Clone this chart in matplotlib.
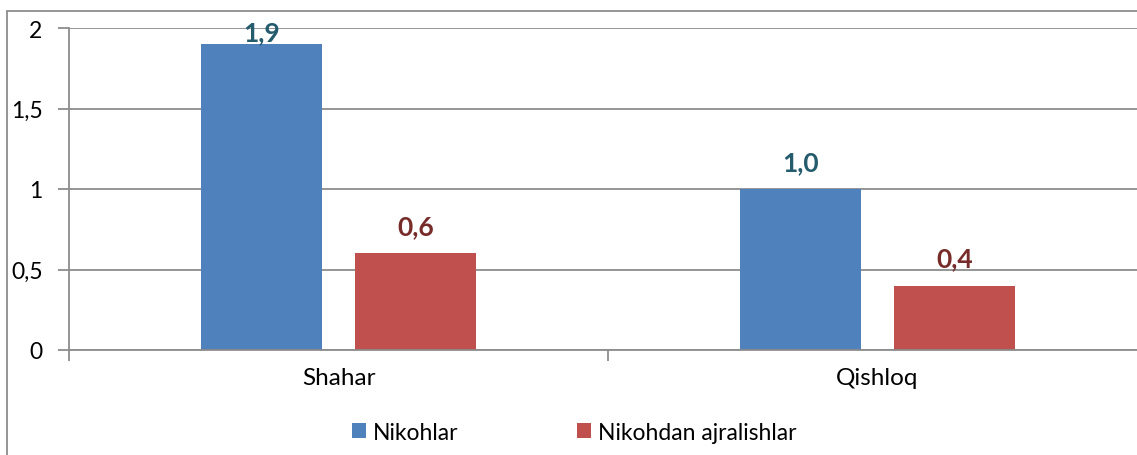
import matplotlib.pyplot as plt
from matplotlib.patches import Rectangle
import numpy as np

categories = ['Shahar', 'Qishloq']
nikohlar = [1.9, 1.0]
ajralishlar = [0.6, 0.4]
labels_niko = ['1,9', '1,0']
labels_ajr = ['0,6', '0,4']
yticks = [0, 0.5, 1, 1.5, 2]
ytick_labels = ['0', '0,5', '1', '1,5', '2']

plt.rcParams['font.family'] = ['Lato', 'DejaVu Sans']

fig = plt.figure(figsize=(11.37, 4.56), dpi=100)
# chart border (right/bottom edges fall outside the image)
fig.patches.append(Rectangle((7 / 1137, -0.1), 1.2, (456 - 12) / 456 + 0.1,
                             transform=fig.transFigure, fill=False,
                             edgecolor='#8c8c8c', linewidth=1.3))

ax = fig.add_axes([69 / 1137, 105 / 456, 1078 / 1137, 322 / 456])
x = np.arange(len(categories))
w = 0.223
off = 0.143
b1 = ax.bar(x - off, nikohlar, w, color='#4F81BD', label='Nikohlar')
b2 = ax.bar(x + off, ajralishlar, w, color='#C0504D', label='Nikohdan ajralishlar')

ax.set_ylim(0, 2)
ax.set_xlim(-0.5, 1.5)
ax.set_yticks(yticks)
ax.set_yticklabels(ytick_labels, fontsize=16.5)
ax.yaxis.grid(True, color='#8c8c8c', linewidth=1.3)
ax.set_axisbelow(True)
ax.set_xticks([-0.5, 0.5, 1.5])
ax.set_xticklabels([])
ax.set_xticks(x, minor=True)
ax.set_xticklabels(categories, minor=True, fontsize=17.5)
ax.tick_params(axis='x', which='minor', length=0, pad=12)
ax.tick_params(axis='x', which='major', length=8, color='#8c8c8c', width=1.3)
ax.tick_params(axis='y', length=8, color='#8c8c8c', width=1.3, pad=11)
for s in ['top', 'right']:
    ax.spines[s].set_visible(False)
for s in ['left', 'bottom']:
    ax.spines[s].set_color('#8c8c8c')
    ax.spines[s].set_linewidth(1.3)

for i in range(len(categories)):
    y1 = min(nikohlar[i] + 0.168, 1.975)
    ax.text(x[i] - off, y1, labels_niko[i], ha='center', va='center',
            fontsize=19, fontweight='bold', color='#245B6D')
    y2 = min(ajralishlar[i] + 0.168, 1.975)
    ax.text(x[i] + off, y2, labels_ajr[i], ha='center', va='center',
            fontsize=19, fontweight='bold', color='#772C2A')

fig.legend(handles=[b1, b2], loc='center', bbox_to_anchor=(0.505, 0.05),
           ncol=2, frameon=False, fontsize=16.5, handlelength=0.62,
           handleheight=0.62, handletextpad=0.3, columnspacing=5.2)

plt.savefig('out.png', dpi=100)
